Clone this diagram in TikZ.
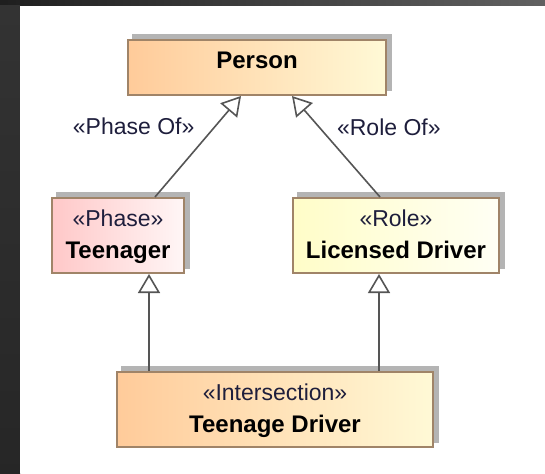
\documentclass[tikz,border=0pt]{standalone}
\usepackage{fontspec}
\setmainfont{Liberation Sans}
\usetikzlibrary{arrows.meta}
\definecolor{bord}{HTML}{A08468}
\definecolor{orL}{HTML}{FFCB9A}
\definecolor{yeR}{HTML}{FFF9D6}
\definecolor{pkL}{HTML}{FFC8C8}
\definecolor{pkR}{HTML}{FFF6F6}
\definecolor{lyL}{HTML}{FFFDC8}
\definecolor{lyR}{HTML}{FFFFF4}
\definecolor{lbl}{HTML}{1E1E3C}
\definecolor{edge}{HTML}{555555}
\definecolor{shadowc}{HTML}{B4B4B4}
\pgfdeclarelayer{back}
\pgfdeclarelayer{shadowlayer}
\pgfsetlayers{back,shadowlayer,main}
\tikzset{
  classbox/.style={draw=bord, line width=2pt, rectangle,
    font=\fontsize{24}{29}\selectfont, text=black, inner sep=0pt},
  twoline/.style={text height=50pt, text depth=4pt},
  oneline/.style={text height=16pt, text depth=13pt},
  gen/.style={draw=edge, line width=1.6pt,
    -{Triangle[open, length=19pt, width=22pt, fill=white]}},
  stlabel/.style={font=\fontsize{23}{28}\selectfont, text=lbl, inner sep=0pt},
  shadowbox/.style={fill=shadowc}
}
\newcommand{\stereo}[1]{{\fontsize{23}{28}\selectfont\color{lbl}«#1»}}
\newcommand{\twolines}[2]{\begin{tabular}[b]{@{}c@{}}\stereo{#1}\\[3pt]\bfseries #2\end{tabular}}
\newcommand{\boxshadow}[1]{\begin{pgfonlayer}{shadowlayer}
  \fill[shadowbox] ([shift={(5pt,5pt)}]#1.north west) rectangle ([shift={(5pt,5pt)}]#1.south east);
  \end{pgfonlayer}}
\begin{document}
\begin{tikzpicture}[x=1pt,y=-1pt]
\useasboundingbox (0,0) rectangle (545,473);
\begin{pgfonlayer}{back}
\shade[left color=black!88, right color=black!62] (0,0) rectangle (545,6);
\shade[top color=black!80, bottom color=black!85] (0,6) rectangle (20,473);
\fill[white] (20,6) rectangle (545,473);
\end{pgfonlayer}

\node[classbox, oneline, left color=orL, right color=yeR, minimum width=258pt, minimum height=55pt]
  (person) at (257,67.5) {\bfseries Person};
\node[classbox, twoline, left color=pkL, right color=pkR, minimum width=132pt, minimum height=75pt]
  (teen) at (118,235.5) {\twolines{Phase}{Teenager}};
\node[classbox, twoline, left color=lyL, right color=lyR, minimum width=206pt, minimum height=75pt]
  (lic) at (396,235.5) {\twolines{Role}{Licensed Driver}};
\node[classbox, twoline, left color=orL, right color=yeR, minimum width=316pt, minimum height=75pt]
  (td) at (275,409.5) {\twolines{Intersection}{Teenage Driver}};
\boxshadow{person}
\boxshadow{teen}
\boxshadow{lic}
\boxshadow{td}

\draw[gen] ([xshift=37pt]teen.north) -- node[pos=0.7, anchor=east, xshift=-20pt, stlabel] {«Phase Of»} ([xshift=-16pt]person.south);
\draw[gen] ([xshift=-16pt]lic.north) -- node[pos=0.69, anchor=west, xshift=17pt, stlabel] {«Role Of»} ([xshift=35pt]person.south);
\draw[gen] ([xshift=-126pt]td.north) -- ([xshift=31pt]teen.south);
\draw[gen] ([xshift=104pt]td.north) -- ([xshift=-17pt]lic.south);
\end{tikzpicture}
\end{document}
